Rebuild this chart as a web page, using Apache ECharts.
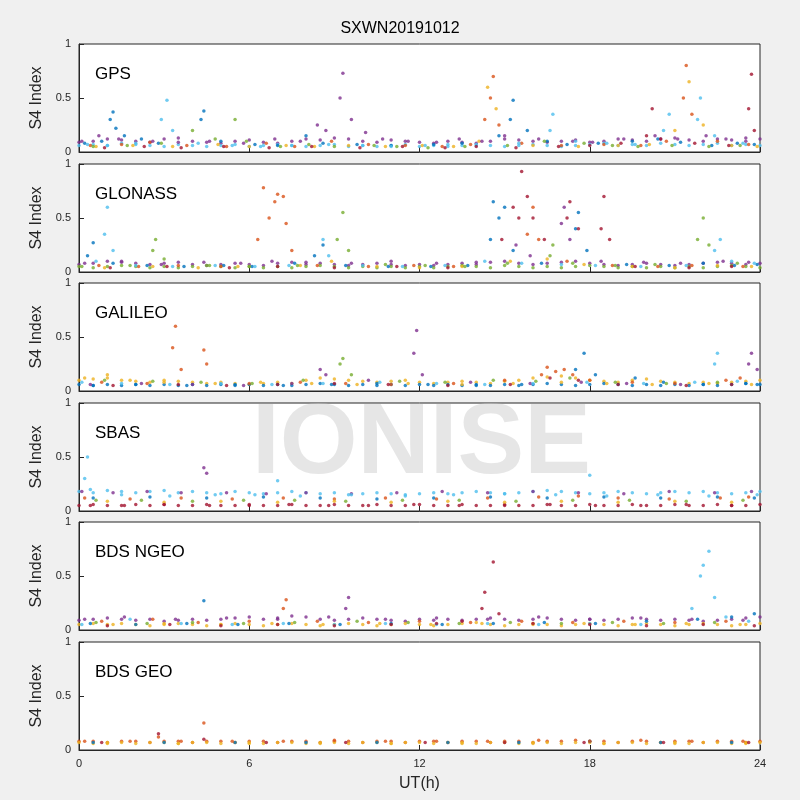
<!DOCTYPE html>
<html>
<head>
<meta charset="utf-8">
<script src="https://cdn.jsdelivr.net/npm/echarts@6/dist/echarts.min.js"></script>
<style>html,body{margin:0;background:#f0f0f0}#main{width:800px;height:800px}</style>
</head>
<body>
<div id="main"></div>
<script>
// matlab default colour order
var colors = ['#0072BD', '#D95319', '#EDB120', '#7E2F8E', '#77AC30', '#4DBEEE', '#A2142F'];
var panelNames = ['GPS', 'GLONASS', 'GALILEO', 'SBAS', 'BDS NGEO', 'BDS GEO'];
var xTicks = [0, 6, 12, 18, 24];
var sampleStep = 0.5; // hours between values of the *Base arrays, starting at 0 UT

// GPS: one array per colour, [UT hour, S4]
var gpsBlue = [[0.2,0.08],[0.8,0.1],[1.1,0.3],[1.2,0.37],[1.3,0.22],[1.6,0.15],[2.2,0.12],[2.8,0.08],[4.3,0.3],[4.4,0.38],[5.0,0.1],[6.2,0.07],[7.0,0.06],[8.0,0.15],[8.6,0.08],[9.8,0.07],[11,0.06],[12.5,0.07],[13.5,0.08],[14.8,0.15],[15.2,0.3],[15.3,0.48],[15.8,0.2],[16.5,0.1],[17.2,0.07],[18.3,0.08],[19.5,0.1],[20.4,0.12],[21.2,0.09],[22.3,0.06],[23.2,0.08],[23.8,0.07]];
var gpsOrange = [[0.4,0.06],[1.5,0.07],[2.5,0.09],[3.8,0.06],[5.2,0.05],[6.6,0.08],[7.6,0.05],[8.9,0.1],[10.2,0.07],[11.5,0.06],[12.8,0.05],[13.8,0.07],[14.3,0.3],[14.5,0.5],[14.6,0.7],[14.8,0.25],[15.6,0.08],[17.0,0.06],[18.5,0.07],[19.8,0.06],[20.7,0.1],[21.3,0.5],[21.4,0.8],[21.6,0.35],[22.5,0.1],[23.6,0.07]];
var gpsYellow = [[0.6,0.05],[1.9,0.06],[3.3,0.05],[4.9,0.07],[6.0,0.05],[7.3,0.06],[8.3,0.05],[9.5,0.06],[10.8,0.05],[12.1,0.06],[13.2,0.05],[14.1,0.1],[14.4,0.6],[14.7,0.4],[16.0,0.06],[17.6,0.05],[19.0,0.06],[20.1,0.07],[21.0,0.2],[21.5,0.65],[22.0,0.25],[23.0,0.06],[23.9,0.05]];
var gpsPurple = [[0.1,0.1],[0.7,0.15],[1.4,0.12],[2.6,0.1],[3.5,0.09],[4.6,0.1],[5.8,0.08],[6.9,0.12],[7.8,0.1],[8.4,0.25],[8.7,0.2],[9.2,0.5],[9.3,0.73],[9.6,0.3],[10.1,0.18],[10.7,0.12],[11.6,0.1],[12.6,0.09],[13.4,0.12],[14.2,0.1],[15.0,0.15],[16.2,0.12],[17.4,0.1],[18.1,0.09],[19.2,0.12],[20.3,0.15],[21.1,0.12],[22.1,0.15],[22.8,0.12],[23.5,0.1]];
var gpsGreen = [[0.5,0.05],[1.7,0.06],[2.9,0.08],[4.0,0.2],[4.8,0.12],[5.5,0.3],[5.9,0.1],[7.1,0.05],[8.1,0.07],[9.0,0.05],[10.4,0.06],[11.2,0.05],[12.3,0.04],[13.6,0.05],[15.1,0.06],[16.4,0.1],[17.8,0.08],[18.8,0.06],[19.7,0.05],[20.9,0.06],[22.2,0.05],[23.3,0.06]];
var gpsCyan = [[0.3,0.07],[1.0,0.06],[2.0,0.08],[2.9,0.3],[3.1,0.48],[3.3,0.2],[4.2,0.08],[5.4,0.06],[6.4,0.05],[7.5,0.06],[8.8,0.07],[10.0,0.06],[11.0,0.05],[12.2,0.06],[13.0,0.07],[14.0,0.06],[15.5,0.08],[16.6,0.2],[16.7,0.35],[17.5,0.1],[18.6,0.08],[19.6,0.07],[20.6,0.2],[20.8,0.35],[21.8,0.3],[21.9,0.5],[22.4,0.15],[23.4,0.08]];
var gpsRed = [[0.9,0.04],[2.3,0.05],[3.6,0.04],[5.1,0.05],[6.7,0.04],[8.2,0.05],[9.9,0.04],[11.4,0.05],[12.9,0.04],[14.0,0.05],[15.4,0.04],[16.9,0.05],[18.0,0.06],[19.1,0.08],[20.0,0.15],[20.2,0.4],[20.5,0.12],[21.7,0.08],[22.9,0.06],[23.6,0.4],[23.7,0.72],[23.8,0.2]];
var gpsBaseA = [0.09,0.1,0.12,0.11,0.1,0.09,0.12,0.13,0.1,0.09,0.08,0.1,0.11,0.09,0.08,0.1,0.12,0.11,0.13,0.12,0.1,0.09,0.11,0.1,0.09,0.08,0.1,0.09,0.08,0.1,0.12,0.11,0.1,0.09,0.1,0.11,0.09,0.1,0.12,0.11,0.1,0.12,0.13,0.11,0.1,0.12,0.11,0.13,0.12];
var gpsBaseB = [0.06,0.07,0.06,0.08,0.07,0.06,0.05,0.07,0.06,0.05,0.06,0.07,0.05,0.06,0.07,0.06,0.05,0.06,0.07,0.05,0.06,0.05,0.06,0.07,0.05,0.06,0.05,0.06,0.07,0.06,0.05,0.06,0.07,0.06,0.05,0.06,0.07,0.08,0.06,0.07,0.06,0.08,0.07,0.06,0.07,0.08,0.06,0.07,0.06];

var gloBlue = [[0.3,0.15],[0.5,0.27],[1.2,0.08],[2.4,0.06],[3.7,0.05],[5.1,0.06],[6.1,0.05],[7.6,0.08],[8.3,0.15],[8.6,0.25],[9.4,0.06],[10.9,0.05],[12.4,0.05],[13.7,0.06],[14.5,0.3],[14.6,0.65],[14.8,0.5],[15.0,0.6],[15.3,0.2],[16.3,0.08],[17.5,0.4],[17.6,0.55],[17.9,0.2],[19.3,0.07],[20.8,0.06],[22.0,0.08],[23.1,0.06],[23.9,0.07]];
var gloOrange = [[0.7,0.06],[2.1,0.05],[3.5,0.06],[5.0,0.05],[6.3,0.3],[6.5,0.78],[6.7,0.5],[6.9,0.65],[7.0,0.72],[7.2,0.7],[7.3,0.45],[7.5,0.2],[8.4,0.06],[10.2,0.05],[11.8,0.06],[13.2,0.05],[15.8,0.35],[16.0,0.6],[16.2,0.3],[17.2,0.1],[18.8,0.06],[20.4,0.05],[21.6,0.06],[23.4,0.05]];
var gloYellow = [[0.9,0.04],[2.6,0.05],[4.2,0.04],[5.6,0.05],[7.8,0.06],[8.9,0.1],[10.5,0.05],[12.0,0.04],[13.5,0.05],[15.2,0.1],[16.5,0.12],[17.8,0.07],[19.5,0.05],[21.0,0.04],[22.5,0.06],[23.7,0.05]];
var gloPurple = [[0.2,0.08],[1.5,0.1],[2.9,0.07],[4.4,0.09],[5.7,0.08],[6.8,0.1],[8.0,0.09],[9.6,0.08],[11.0,0.1],[12.6,0.08],[14.0,0.09],[15.4,0.25],[15.9,0.15],[17.0,0.45],[17.1,0.6],[17.3,0.3],[18.4,0.1],[19.9,0.09],[21.2,0.08],[22.7,0.1],[23.6,0.09]];
var gloGreen = [[0.1,0.05],[1.8,0.06],[2.6,0.2],[2.7,0.3],[3.0,0.12],[4.6,0.06],[6.0,0.05],[7.7,0.06],[9.1,0.3],[9.3,0.55],[9.5,0.2],[10.8,0.07],[12.2,0.06],[13.6,0.05],[15.1,0.08],[16.6,0.15],[16.7,0.25],[17.4,0.08],[18.9,0.06],[20.3,0.07],[21.8,0.3],[22.0,0.5],[22.2,0.25],[23.2,0.08]];
var gloCyan = [[0.6,0.1],[0.9,0.35],[1.0,0.6],[1.2,0.2],[2.0,0.06],[3.3,0.05],[4.8,0.06],[6.2,0.05],[7.4,0.06],[8.6,0.3],[8.8,0.15],[10.0,0.06],[11.4,0.05],[12.9,0.06],[14.3,0.1],[15.6,0.08],[17.0,0.07],[18.2,0.06],[19.8,0.05],[21.4,0.06],[22.4,0.2],[22.6,0.3],[23.0,0.1],[23.8,0.08]];
var gloRed = [[1.1,0.04],[3.1,0.05],[5.3,0.04],[7.0,0.05],[9.0,0.04],[11.2,0.05],[13.0,0.04],[14.9,0.3],[15.3,0.6],[15.5,0.5],[15.6,0.93],[15.8,0.7],[16.0,0.5],[16.4,0.3],[17.2,0.5],[17.3,0.65],[17.6,0.4],[18.4,0.4],[18.5,0.7],[18.7,0.3],[19.6,0.05],[21.5,0.04],[23.0,0.05]];
var gloBaseA = [0.07,0.08,0.1,0.09,0.08,0.07,0.08,0.09,0.07,0.06,0.07,0.08,0.07,0.06,0.08,0.09,0.07,0.08,0.07,0.06,0.07,0.08,0.07,0.06,0.07,0.06,0.07,0.08,0.07,0.09,0.1,0.08,0.07,0.08,0.09,0.1,0.08,0.07,0.06,0.07,0.08,0.07,0.06,0.07,0.08,0.09,0.08,0.07,0.08];
var gloBaseB = [0.05,0.04,0.05,0.06,0.05,0.04,0.05,0.04,0.05,0.06,0.05,0.04,0.05,0.04,0.05,0.04,0.05,0.06,0.05,0.04,0.05,0.04,0.05,0.04,0.05,0.04,0.05,0.06,0.05,0.04,0.06,0.05,0.04,0.05,0.04,0.05,0.06,0.05,0.04,0.05,0.04,0.05,0.04,0.05,0.04,0.05,0.06,0.05,0.04];

var galBlue = [[0.5,0.05],[2.0,0.06],[3.8,0.05],[5.5,0.06],[7.2,0.05],[8.9,0.06],[10.5,0.07],[12.3,0.06],[14.0,0.05],[15.6,0.06],[17.5,0.2],[17.8,0.35],[18.2,0.15],[19.6,0.12],[20.6,0.08],[22.0,0.06],[23.5,0.07],[23.9,0.06]];
var galOrange = [[0.8,0.08],[2.4,0.07],[3.3,0.4],[3.4,0.6],[3.6,0.2],[4.4,0.38],[4.5,0.25],[6.0,0.07],[7.8,0.08],[9.4,0.07],[11.0,0.06],[13.2,0.07],[15.0,0.1],[16.3,0.15],[16.5,0.22],[16.8,0.18],[17.1,0.2],[17.4,0.15],[18.0,0.1],[19.5,0.08],[21.0,0.07],[22.8,0.1],[23.3,0.12]];
var galYellow = [[0.2,0.12],[1.0,0.15],[1.8,0.1],[3.0,0.08],[4.8,0.07],[6.4,0.08],[8.2,0.07],[9.8,0.06],[11.6,0.07],[13.5,0.06],[15.3,0.07],[17.0,0.08],[18.6,0.07],[20.2,0.06],[22.2,0.07],[23.7,0.06]];
var galPurple = [[0.4,0.06],[2.2,0.07],[4.0,0.06],[5.8,0.05],[7.5,0.07],[8.5,0.2],[8.7,0.15],[10.2,0.1],[11.8,0.35],[11.9,0.56],[12.1,0.15],[13.8,0.08],[15.9,0.07],[17.7,0.08],[19.3,0.07],[21.2,0.06],[23.6,0.25],[23.7,0.35],[23.9,0.2]];
var galGreen = [[0.9,0.1],[2.6,0.09],[4.3,0.08],[6.1,0.07],[7.9,0.1],[9.2,0.25],[9.3,0.3],[9.6,0.15],[11.3,0.09],[12.9,0.08],[14.6,0.1],[16.1,0.09],[17.3,0.12],[18.9,0.08],[20.7,0.07],[22.5,0.08]];
var galCyan = [[0.1,0.08],[1.5,0.07],[3.2,0.06],[5.0,0.07],[6.8,0.06],[8.6,0.07],[10.6,0.08],[12.6,0.07],[14.3,0.06],[16.0,0.07],[17.9,0.08],[19.9,0.07],[21.7,0.08],[22.4,0.25],[22.5,0.35],[23.2,0.09]];
var galRed = [[1.2,0.05],[3.5,0.06],[5.2,0.05],[7.0,0.06],[9.0,0.07],[10.9,0.06],[13.0,0.05],[15.2,0.06],[16.6,0.12],[17.6,0.1],[19.0,0.06],[21.4,0.05],[23.0,0.06]];
var galBaseA = [0.1,0.11,0.12,0.1,0.09,0.08,0.1,0.09,0.08,0.07,0.08,0.07,0.06,0.07,0.08,0.07,0.1,0.12,0.11,0.1,0.09,0.08,0.09,0.1,0.08,0.07,0.08,0.09,0.08,0.07,0.09,0.1,0.12,0.13,0.14,0.12,0.1,0.09,0.08,0.1,0.11,0.09,0.08,0.07,0.08,0.07,0.08,0.09,0.1];
var galBaseB = [0.06,0.05,0.06,0.05,0.06,0.05,0.06,0.05,0.06,0.05,0.06,0.05,0.06,0.05,0.06,0.05,0.06,0.07,0.06,0.05,0.06,0.05,0.06,0.05,0.06,0.05,0.06,0.05,0.06,0.05,0.06,0.05,0.06,0.07,0.06,0.05,0.06,0.07,0.06,0.05,0.06,0.05,0.06,0.05,0.06,0.05,0.06,0.07,0.06];

var sbasBlue = [[0.5,0.12],[2.5,0.13],[4.5,0.12],[6.5,0.13],[8.5,0.12],[10.5,0.11],[12.5,0.12],[14.5,0.13],[16.5,0.12],[18.5,0.13],[20.5,0.12],[22.5,0.13],[23.8,0.12]];
var sbasOrange = [[0.2,0.12],[1.8,0.11],[3.6,0.12],[5.4,0.11],[7.2,0.12],[9.0,0.11],[10.8,0.12],[12.6,0.11],[14.4,0.12],[16.2,0.13],[17.6,0.14],[19.0,0.12],[20.8,0.11],[22.6,0.12],[23.6,0.13]];
var sbasYellow = [[1.0,0.09],[3.0,0.08],[5.0,0.09],[7.0,0.08],[9.0,0.09],[11.0,0.08],[13.0,0.09],[15.0,0.08],[17.0,0.09],[19.0,0.08],[21.0,0.09],[23.0,0.08]];
var sbasPurple = [[0.1,0.18],[1.2,0.17],[2.4,0.18],[3.6,0.17],[4.4,0.4],[4.5,0.35],[5.2,0.17],[6.6,0.16],[8.0,0.17],[9.6,0.16],[11.2,0.17],[12.8,0.18],[14.4,0.17],[16.0,0.18],[17.6,0.17],[19.2,0.16],[20.8,0.18],[22.4,0.17],[23.7,0.18]];
var sbasGreen = [[0.6,0.1],[2.2,0.1],[4.0,0.09],[5.8,0.1],[7.6,0.1],[9.4,0.09],[11.4,0.1],[13.4,0.1],[15.4,0.09],[17.4,0.1],[19.4,0.1],[21.4,0.09],[23.4,0.1]];
var sbasCyan = [[0.2,0.3],[0.3,0.5],[0.4,0.2],[1.5,0.15],[3.2,0.14],[4.8,0.15],[6.2,0.15],[7.0,0.28],[7.8,0.14],[9.6,0.15],[11.5,0.14],[13.2,0.15],[15.0,0.16],[16.8,0.15],[18.0,0.33],[18.6,0.14],[20.4,0.15],[22.2,0.14],[23.9,0.15]];
var sbasRed = [[0.4,0.05],[1.6,0.05],[3.0,0.06],[4.6,0.05],[6.0,0.05],[7.4,0.06],[8.8,0.05],[10.2,0.05],[11.8,0.06],[13.4,0.05],[15.0,0.05],[16.6,0.06],[18.2,0.05],[19.8,0.05],[21.4,0.06],[23.0,0.05]];
var sbasBaseA = [0.18,0.17,0.19,0.18,0.17,0.18,0.19,0.17,0.18,0.17,0.16,0.18,0.17,0.16,0.17,0.18,0.17,0.16,0.17,0.15,0.16,0.17,0.16,0.15,0.16,0.17,0.16,0.17,0.18,0.17,0.16,0.17,0.18,0.19,0.18,0.17,0.16,0.17,0.18,0.17,0.16,0.17,0.18,0.17,0.18,0.17,0.16,0.17,0.18];
var sbasBaseB = [0.05,0.06,0.05,0.05,0.06,0.05,0.06,0.05,0.05,0.06,0.05,0.05,0.06,0.05,0.05,0.06,0.05,0.05,0.06,0.05,0.05,0.06,0.05,0.05,0.06,0.05,0.05,0.06,0.05,0.05,0.06,0.05,0.05,0.06,0.05,0.05,0.06,0.05,0.05,0.06,0.05,0.05,0.06,0.05,0.05,0.06,0.05,0.05,0.06];

var ngeoBlue = [[0.4,0.06],[2.0,0.05],[3.8,0.06],[4.4,0.27],[5.6,0.05],[7.4,0.06],[9.2,0.05],[11.0,0.06],[12.8,0.05],[14.6,0.06],[16.4,0.07],[18.2,0.06],[20.0,0.08],[21.8,0.1],[23.0,0.12],[23.8,0.15]];
var ngeoOrange = [[0.8,0.08],[2.6,0.1],[4.2,0.07],[6.0,0.08],[7.2,0.2],[7.3,0.28],[8.4,0.08],[10.2,0.07],[12.0,0.08],[13.8,0.07],[15.6,0.08],[17.4,0.07],[19.2,0.08],[21.0,0.07],[22.8,0.08]];
var ngeoYellow = [[1.2,0.05],[3.0,0.06],[5.0,0.05],[6.8,0.06],[8.6,0.05],[10.6,0.06],[12.4,0.05],[14.2,0.06],[16.0,0.05],[17.8,0.06],[19.6,0.05],[21.4,0.06],[23.3,0.05]];
var ngeoPurple = [[0.2,0.1],[1.6,0.12],[3.4,0.1],[5.2,0.11],[7.0,0.1],[8.8,0.12],[9.4,0.2],[9.5,0.3],[10.8,0.1],[12.6,0.11],[14.4,0.1],[16.2,0.12],[18.0,0.1],[19.8,0.11],[21.6,0.1],[23.4,0.09]];
var ngeoGreen = [[0.6,0.07],[2.4,0.06],[4.0,0.07],[5.8,0.06],[7.6,0.07],[9.8,0.08],[11.6,0.07],[13.4,0.06],[15.2,0.07],[17.0,0.06],[18.8,0.07],[20.6,0.06],[22.4,0.07]];
var ngeoCyan = [[0.1,0.05],[1.8,0.1],[3.6,0.06],[5.4,0.05],[7.2,0.06],[9.0,0.05],[10.8,0.06],[12.6,0.05],[14.4,0.06],[16.2,0.05],[18.0,0.06],[19.8,0.05],[21.6,0.2],[21.9,0.5],[22.0,0.6],[22.2,0.73],[22.4,0.3],[22.8,0.12],[23.6,0.08]];
var ngeoRed = [[1.0,0.04],[3.2,0.05],[5.0,0.04],[7.0,0.05],[9.0,0.04],[11.0,0.05],[12.6,0.06],[13.5,0.08],[14.2,0.2],[14.3,0.35],[14.6,0.63],[14.8,0.15],[16.0,0.06],[18.0,0.05],[20.0,0.04],[22.0,0.05],[23.8,0.04]];
var ngeoBaseA = [0.09,0.1,0.11,0.1,0.09,0.1,0.08,0.09,0.1,0.09,0.1,0.11,0.12,0.1,0.11,0.13,0.12,0.1,0.09,0.1,0.11,0.1,0.09,0.08,0.1,0.09,0.1,0.09,0.1,0.11,0.1,0.09,0.1,0.11,0.1,0.09,0.1,0.09,0.1,0.11,0.1,0.09,0.1,0.09,0.08,0.09,0.1,0.11,0.12];
var ngeoBaseB = [0.05,0.06,0.05,0.06,0.05,0.04,0.05,0.06,0.05,0.04,0.05,0.06,0.05,0.04,0.05,0.06,0.05,0.04,0.05,0.06,0.05,0.04,0.05,0.06,0.05,0.04,0.05,0.06,0.07,0.05,0.04,0.05,0.06,0.05,0.04,0.05,0.06,0.05,0.04,0.05,0.06,0.05,0.04,0.05,0.06,0.05,0.04,0.05,0.06];

var geoBlue = [[0.5,0.07],[3.0,0.07],[5.5,0.07],[8.0,0.07],[10.5,0.07],[13.0,0.07],[15.5,0.07],[18.0,0.08],[20.5,0.07],[23.0,0.07]];
var geoOrange = [[0.2,0.08],[1.8,0.08],[2.8,0.12],[3.6,0.08],[4.4,0.25],[5.4,0.08],[7.2,0.08],[9.0,0.09],[10.8,0.08],[12.6,0.08],[14.4,0.08],[16.2,0.09],[18.0,0.08],[19.8,0.09],[21.6,0.08],[23.4,0.08]];
var geoYellow = [[1.0,0.06],[3.5,0.06],[6.0,0.06],[8.5,0.06],[11.0,0.06],[13.5,0.06],[16.0,0.06],[18.5,0.06],[21.0,0.06],[23.5,0.06]];
var geoRed = [[0.8,0.07],[2.8,0.15],[4.4,0.1],[6.6,0.07],[9.4,0.07],[12.2,0.07],[15.0,0.07],[17.8,0.07],[20.6,0.07],[23.6,0.07]];
var geoBaseA = [0.08,0.08,0.07,0.08,0.08,0.07,0.08,0.08,0.07,0.08,0.08,0.07,0.08,0.08,0.07,0.08,0.08,0.07,0.08,0.08,0.07,0.08,0.08,0.07,0.08,0.08,0.07,0.08,0.08,0.07,0.08,0.08,0.07,0.08,0.08,0.09,0.08,0.08,0.07,0.08,0.08,0.07,0.08,0.08,0.07,0.08,0.08,0.07,0.08];
var geoBaseB = [0.07,0.06,0.07,0.07,0.06,0.07,0.07,0.06,0.07,0.07,0.06,0.07,0.07,0.06,0.07,0.07,0.06,0.07,0.07,0.06,0.07,0.07,0.06,0.07,0.07,0.06,0.07,0.07,0.06,0.07,0.07,0.06,0.07,0.07,0.06,0.07,0.07,0.06,0.07,0.07,0.06,0.07,0.07,0.06,0.07,0.07,0.06,0.07,0.07];

var panelData = [
  [gpsBlue, gpsOrange, gpsYellow, gpsPurple, gpsGreen, gpsCyan, gpsRed],
  [gloBlue, gloOrange, gloYellow, gloPurple, gloGreen, gloCyan, gloRed],
  [galBlue, galOrange, galYellow, galPurple, galGreen, galCyan, galRed],
  [sbasBlue, sbasOrange, sbasYellow, sbasPurple, sbasGreen, sbasCyan, sbasRed],
  [ngeoBlue, ngeoOrange, ngeoYellow, ngeoPurple, ngeoGreen, ngeoCyan, ngeoRed],
  [geoBlue, geoOrange, geoYellow, null, null, null, geoRed]
];
// dense baseline samples: [values, colour index]
var panelBase = [
  [[gpsBaseA, 3], [gpsBaseB, 5]],
  [[gloBaseA, 3], [gloBaseB, 4]],
  [[galBaseA, 2], [galBaseB, 0]],
  [[sbasBaseA, 5], [sbasBaseB, 6]],
  [[ngeoBaseA, 3], [ngeoBaseB, 2]],
  [[geoBaseA, 1], [geoBaseB, 2]]
];

var myChart = echarts.init(document.getElementById('main'));
var tops = [44, 164, 283, 403, 522, 642];
var grid = [], xAxis = [], yAxis = [], series = [], graphic = [];

tops.forEach(function (top, i) {
    grid.push({left: 79, width: 681, top: top, height: 108, show: true,
        backgroundColor: '#fff', borderColor: '#262626', borderWidth: 1});
    xAxis.push({gridIndex: i, type: 'value', min: 0, max: 24, interval: 6,
        axisLine: {lineStyle: {color: '#262626'}},
        axisTick: {inside: true, length: 5},
        splitLine: {show: false},
        axisLabel: {show: i === 5, color: '#262626', fontSize: 11},
        name: i === 5 ? 'UT(h)' : '', nameLocation: 'middle', nameGap: 26,
        nameTextStyle: {fontSize: 16, color: '#262626'}});
    yAxis.push({gridIndex: i, type: 'value', min: 0, max: 1, interval: 0.5,
        axisLine: {lineStyle: {color: '#262626'}},
        axisTick: {inside: true, length: 5},
        splitLine: {show: false},
        axisLabel: {color: '#262626', fontSize: 11},
        name: 'S4 Index', nameLocation: 'middle', nameGap: 27,
        nameTextStyle: {fontSize: 16, color: '#262626'}});
    graphic.push({type: 'text', left: 95, top: top + 22, z: 100,
        style: {text: panelNames[i], fontSize: 17, fill: '#000', fontFamily: 'Liberation Sans'}});
    panelBase[i].forEach(function (b) {
        series.push({type: 'scatter', xAxisIndex: i, yAxisIndex: i,
            data: b[0].map(function (v, k) { return [k * sampleStep, v]; }),
            symbolSize: 3.5, itemStyle: {color: colors[b[1]]}, z: 4});
    });
    panelData[i].forEach(function (d, c) {
        if (!d) return;
        series.push({type: 'scatter', xAxisIndex: i, yAxisIndex: i, data: d,
            symbolSize: 3.5, itemStyle: {color: colors[c]}, z: 5});
    });
});

graphic.push({type: 'text', left: 252, top: 395, z: 1, silent: true,
    style: {text: 'IONISE', fontSize: 100, fontWeight: 'bold', fill: 'rgba(200,200,200,0.45)', fontFamily: 'Liberation Sans'}});

option = {
    backgroundColor: '#f0f0f0',
    animation: false,
    title: {text: 'SXWN20191012', left: 'center', top: 16,
        textStyle: {fontSize: 16, fontWeight: 'normal', color: '#000'}},
    grid: grid, xAxis: xAxis, yAxis: yAxis, series: series, graphic: graphic
};
myChart.setOption(option);
</script>
</body>
</html>
